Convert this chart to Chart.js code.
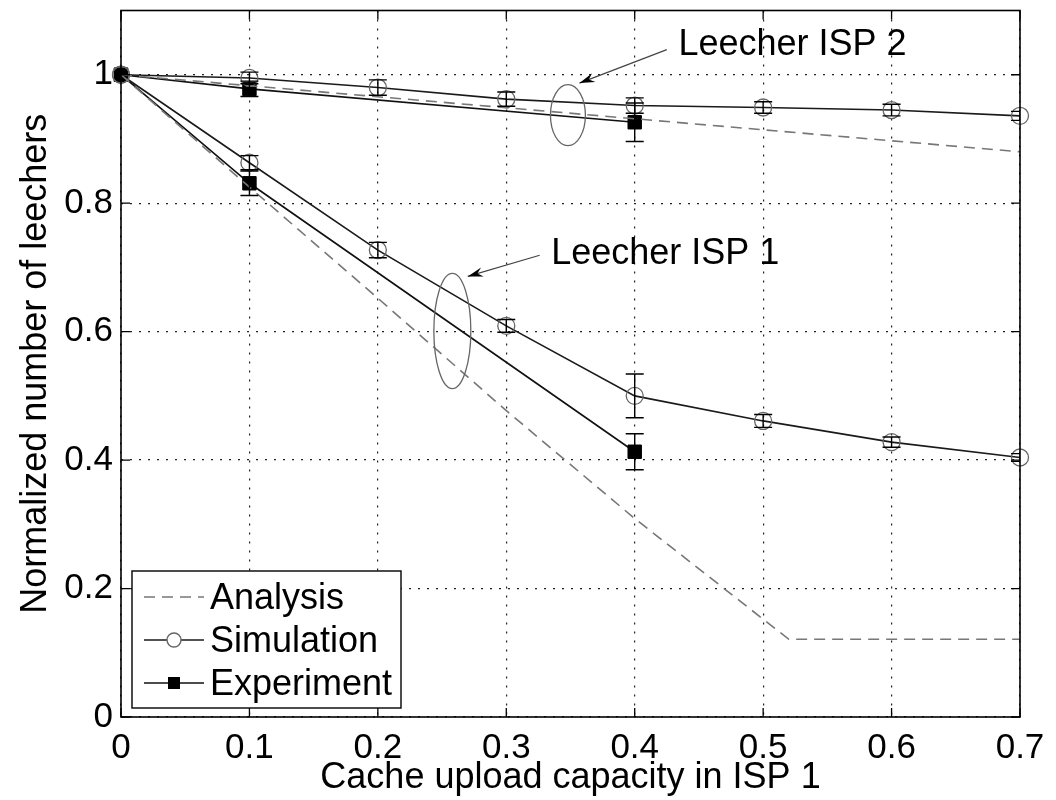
<!DOCTYPE html>
<html>
<head>
<meta charset="utf-8">
<script src="https://cdn.jsdelivr.net/npm/chart.js@4"></script>
<style>
  body { margin: 0; background: #fff; }
  #wrap { width: 1056px; height: 800px; }
</style>
</head>
<body>
<div id="wrap"><canvas id="chart" width="1056" height="800"></canvas></div>
<script>
const FONT = '"Liberation Sans", Arial, Helvetica, sans-serif'

// values
const xTicks = [0, 0.1, 0.2, 0.3, 0.4, 0.5, 0.6, 0.7]
const yTicks = [0, 0.2, 0.4, 0.6, 0.8, 1]

const xSim = [0, 0.1, 0.2, 0.3, 0.4, 0.5, 0.6, 0.7]
const simIsp2 = [1, 0.995, 0.980, 0.962, 0.952, 0.949, 0.945, 0.936]
const simIsp2Err = [0, 0.009, 0.012, 0.011, 0.012, 0.009, 0.009, 0.007]
const simIsp1 = [1, 0.863, 0.727, 0.609, 0.500, 0.461, 0.428, 0.404]
const simIsp1Err = [0, 0.011, 0.012, 0.010, 0.034, 0.010, 0.008, 0.006]

const xExp = [0, 0.1, 0.4]
const expIsp2 = [1, 0.978, 0.926]
const expIsp2Err = [0, 0.012, 0.030]
const expIsp1 = [1, 0.831, 0.413]
const expIsp1Err = [0, 0.019, 0.028]

const xAnaIsp2 = [0, 0.7]
const anaIsp2 = [1, 0.880]
const xAnaIsp1 = [0, 0.1, 0.2, 0.3, 0.4, 0.52, 0.7]
const anaIsp1 = [1, 0.825, 0.652, 0.477, 0.309, 0.121, 0.121]

const legendLabels = ["Analysis", "Simulation", "Experiment"]

// callouts, in data units
const callouts = [
    { text: "Leecher ISP 2", tx: 0.434, ty: 1.031, from: [0.425, 1.039], to: [0.357, 0.987], cx: 0.348, cy: 0.937, rx: 0.0136, ry: 0.0475 },
    { text: "Leecher ISP 1", tx: 0.335, ty: 0.706, from: [0.326, 0.719], to: [0.270, 0.686], cx: 0.258, cy: 0.601, rx: 0.0144, ry: 0.0896 }
]

const pts = (xs, ys) => xs.map((x, i) => ({ x: x, y: ys[i] }))

const anaStyle = { borderColor: "#777", borderWidth: 1.6, borderDash: [11, 7], pointRadius: 0, showLine: true }
const simStyle = { borderColor: "#1a1a1a", borderWidth: 1.6, pointStyle: "circle", pointRadius: 8.5,
    pointBackgroundColor: "rgba(255,255,255,0)", pointBorderColor: "#666", pointBorderWidth: 1.3, showLine: true, clip: false }
const expStyle = { borderColor: "#111", borderWidth: 1.6, pointStyle: "rect", pointRadius: 9.5,
    pointBackgroundColor: "#000", pointBorderColor: "#000", pointBorderWidth: 1, showLine: true, clip: false }

const errorBars = {
    id: "errorBars",
    afterDatasetsDraw(chart) {
        const { ctx, chartArea, scales } = chart
        ctx.save()
        ctx.beginPath()
        ctx.rect(chartArea.left, chartArea.top, chartArea.right - chartArea.left, chartArea.bottom - chartArea.top)
        ctx.clip()
        ctx.strokeStyle = "#000"
        ctx.lineWidth = 1.4
        chart.data.datasets.forEach(ds => {
            if (!ds.errors) return
            ds.data.forEach((p, i) => {
                const e = ds.errors[i]
                if (!e) return
                const x = scales.x.getPixelForValue(p.x)
                const y1 = scales.y.getPixelForValue(p.y + e)
                const y2 = scales.y.getPixelForValue(p.y - e)
                ctx.beginPath()
                ctx.moveTo(x, y1); ctx.lineTo(x, y2)
                ctx.moveTo(x - 9, y1); ctx.lineTo(x + 9, y1)
                ctx.moveTo(x - 9, y2); ctx.lineTo(x + 9, y2)
                ctx.stroke()
            })
        })
        ctx.restore()
    }
}

const frame = {
    id: "frame",
    afterDraw(chart) {
        const { ctx, chartArea: a, scales } = chart
        ctx.save()
        ctx.strokeStyle = "#000"
        ctx.lineWidth = 1.6
        ctx.strokeRect(a.left, a.top, a.right - a.left, a.bottom - a.top)
        ctx.lineWidth = 1.3
        ctx.beginPath()
        xTicks.forEach(v => {
            const x = scales.x.getPixelForValue(v)
            ctx.moveTo(x, a.bottom); ctx.lineTo(x, a.bottom - 9)
            ctx.moveTo(x, a.top); ctx.lineTo(x, a.top + 9)
        })
        yTicks.forEach(v => {
            const y = scales.y.getPixelForValue(v)
            ctx.moveTo(a.left, y); ctx.lineTo(a.left + 9, y)
            ctx.moveTo(a.right, y); ctx.lineTo(a.right - 9, y)
        })
        ctx.stroke()

        // callouts
        ctx.font = "36px " + FONT
        ctx.fillStyle = "#000"
        ctx.textBaseline = "alphabetic"
        callouts.forEach(c => {
            const px = v => scales.x.getPixelForValue(v)
            const py = v => scales.y.getPixelForValue(v)
            ctx.fillText(c.text, px(c.tx), py(c.ty))
            ctx.strokeStyle = "#666"
            ctx.lineWidth = 1.3
            ctx.beginPath()
            const rx = px(c.cx + c.rx) - px(c.cx)
            const ry = py(c.cy - c.ry) - py(c.cy)
            ctx.ellipse(px(c.cx), py(c.cy), rx, ry, 0, 0, Math.PI * 2)
            ctx.stroke()
            const x1 = px(c.from[0]), y1 = py(c.from[1]), x2 = px(c.to[0]), y2 = py(c.to[1])
            ctx.strokeStyle = "#444"
            ctx.lineWidth = 1.2
            ctx.beginPath(); ctx.moveTo(x1, y1); ctx.lineTo(x2, y2); ctx.stroke()
            const ang = Math.atan2(y2 - y1, x2 - x1)
            ctx.fillStyle = "#000"
            ctx.beginPath()
            ctx.moveTo(x2, y2)
            ctx.lineTo(x2 - 16 * Math.cos(ang - 0.3), y2 - 16 * Math.sin(ang - 0.3))
            ctx.lineTo(x2 - 10 * Math.cos(ang), y2 - 10 * Math.sin(ang))
            ctx.lineTo(x2 - 16 * Math.cos(ang + 0.3), y2 - 16 * Math.sin(ang + 0.3))
            ctx.closePath()
            ctx.fill()
        })

        // legend box, lower left inside the axes
        const bx = a.left + 11, by = a.bottom - 146, bw = 269, bh = 137
        ctx.fillStyle = "#fff"
        ctx.fillRect(bx, by, bw, bh)
        ctx.strokeStyle = "#000"
        ctx.lineWidth = 1.4
        ctx.strokeRect(bx, by, bw, bh)
        const styles = [anaStyle, simStyle, expStyle]
        legendLabels.forEach((lab, i) => {
            const y = by + 26 + i * 43
            const s = styles[i]
            ctx.strokeStyle = s.borderColor
            ctx.lineWidth = 1.4
            ctx.setLineDash(s.borderDash || [])
            ctx.beginPath(); ctx.moveTo(bx + 12, y); ctx.lineTo(bx + 72, y); ctx.stroke()
            ctx.setLineDash([])
            if (s.pointStyle === "circle") {
                ctx.fillStyle = "#fff"
                ctx.strokeStyle = "#666"
                ctx.beginPath(); ctx.arc(bx + 42, y, 7, 0, Math.PI * 2); ctx.fill(); ctx.stroke()
            } else if (s.pointStyle === "rect") {
                ctx.fillStyle = "#000"
                ctx.fillRect(bx + 36, y - 6, 12, 12)
            }
            ctx.fillStyle = "#000"
            ctx.textBaseline = "middle"
            ctx.fillText(lab, bx + 78, y + 2)
        })
        ctx.restore()
    }
}

new Chart(document.getElementById("chart"), {
    type: "scatter",
    data: {
        datasets: [
            Object.assign({ label: "Analysis ISP 2", data: pts(xAnaIsp2, anaIsp2) }, anaStyle),
            Object.assign({ label: "Analysis ISP 1", data: pts(xAnaIsp1, anaIsp1) }, anaStyle),
            Object.assign({ label: "Simulation ISP 2", data: pts(xSim, simIsp2), errors: simIsp2Err }, simStyle),
            Object.assign({ label: "Simulation ISP 1", data: pts(xSim, simIsp1), errors: simIsp1Err }, simStyle),
            Object.assign({ label: "Experiment ISP 2", data: pts(xExp, expIsp2), errors: expIsp2Err }, expStyle),
            Object.assign({ label: "Experiment ISP 1", data: pts(xExp, expIsp1), errors: expIsp1Err }, expStyle)
        ]
    },
    options: {
        responsive: false,
        animation: false,
        layout: { padding: { left: 0, right: 36, top: 9, bottom: 0 } },
        plugins: { legend: { display: false }, tooltip: { enabled: false } },
        scales: {
            x: {
                type: "linear", min: 0, max: 0.7,
                afterBuildTicks: s => { s.ticks = xTicks.map(v => ({ value: v })) },
                afterFit: s => { s.height = 83; s.paddingLeft = 0; s.paddingRight = 0 },
                ticks: { font: { family: FONT, size: 35 }, color: "#000", padding: 10, maxRotation: 0,
                    callback: v => String(v) },
                grid: { color: "#222", lineWidth: 1.2, drawTicks: false },
                border: { display: false, dash: [2, 7] },
                title: { display: true, text: "Cache upload capacity in ISP 1", color: "#000",
                    font: { family: FONT, size: 36 }, padding: { top: 0, bottom: 0 } }
            },
            y: {
                type: "linear", min: 0, max: 1.1,
                afterBuildTicks: s => { s.ticks = yTicks.map(v => ({ value: v })) },
                afterFit: s => { s.width = 121; s.paddingTop = 0; s.paddingBottom = 0 },
                ticks: { font: { family: FONT, size: 35 }, color: "#000", padding: 8,
                    callback: v => String(v) },
                grid: { color: "#222", lineWidth: 1.2, drawTicks: false },
                border: { display: false, dash: [2, 7] },
                title: { display: true, text: "Normalized number of leechers", color: "#000",
                    font: { family: FONT, size: 36 }, padding: { top: 14, bottom: 0 } }
            }
        }
    },
    plugins: [errorBars, frame]
})
</script>
</body>
</html>
